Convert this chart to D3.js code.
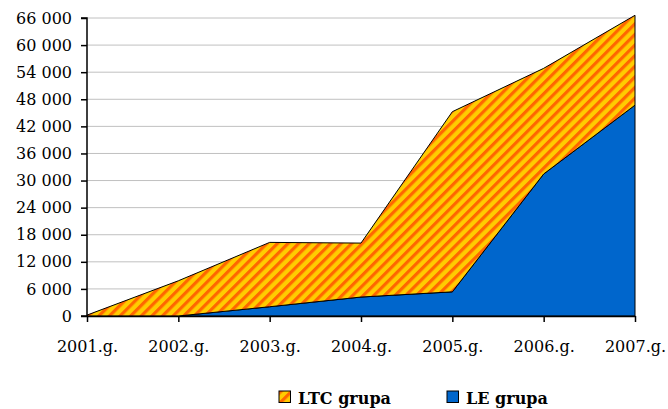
<!DOCTYPE html>
<meta charset="utf-8">
<script src="https://d3js.org/d3.v7.min.js"></script>
<style>
  body { margin: 0; background: #fff; }
</style>
<div id="chart"></div>
<script>

// data
var years = ["2001.g.", "2002.g.", "2003.g.", "2004.g.", "2005.g.", "2006.g.", "2007.g."];
var leGrupa  = [0, 0, 2050, 4200, 5350, 31450, 46700];
var ltcGrupa = [200, 7800, 14250, 11950, 39900, 23400, 19900];
var yTicks = [0, 6000, 12000, 18000, 24000, 30000, 36000, 42000, 48000, 54000, 60000, 66000];
var seriesNames = ["LE grupa", "LTC grupa"];

var serif = "DejaVu Serif";

var margin = {top: 18, right: 33, bottom: 93, left: 87},
    width = 668 - margin.left - margin.right,
    height = 409 - margin.top - margin.bottom;

var svg = d3.select("#chart")
  .append("svg")
    .attr("width", 668)
    .attr("height", 409)
    .attr("font-family", serif);

// striped fill for LTC
var defs = svg.append("defs");
var pat = defs.append("pattern")
    .attr("id", "stripes")
    .attr("patternUnits", "userSpaceOnUse")
    .attr("width", 7.5)
    .attr("height", 10)
    .attr("patternTransform", "rotate(45)");
pat.append("rect").attr("width", 7.5).attr("height", 10).attr("fill", "#FFCC00");
pat.append("rect").attr("width", 3.2).attr("height", 10).attr("fill", "#FF6600");

var g = svg.append("g")
    .attr("transform", "translate(" + margin.left + "," + margin.top + ")");

var x = d3.scalePoint()
    .domain(years)
    .range([0, width]);

var y = d3.scaleLinear()
    .domain([0, 66000])
    .range([height, 0]);

// gridlines
g.append("g")
  .selectAll("line")
  .data(yTicks.filter(function(d) { return d > 0; }))
  .enter().append("line")
    .attr("x1", 0)
    .attr("x2", width)
    .attr("y1", function(d) { return y(d); })
    .attr("y2", function(d) { return y(d); })
    .attr("stroke", "#c0c0c0")
    .attr("stroke-width", 1);

// stack
var table = years.map(function(yr, i) {
  return {year: yr, "LE grupa": leGrupa[i], "LTC grupa": ltcGrupa[i]};
});
var stacked = d3.stack().keys(seriesNames)(table);

var area = d3.area()
    .x(function(d) { return x(d.data.year); })
    .y0(function(d) { return y(d[0]); })
    .y1(function(d) { return y(d[1]); });

var fills = {"LE grupa": "#0066CC", "LTC grupa": "url(#stripes)"};

g.append("g")
  .selectAll("path")
  .data(stacked)
  .enter().append("path")
    .attr("d", area)
    .attr("fill", function(d) { return fills[d.key]; })
    .attr("stroke", "#000")
    .attr("stroke-width", 1)
    .attr("stroke-linejoin", "round");

// axes
var yAxis = g.append("g")
    .call(d3.axisLeft(y).tickValues(yTicks).tickSize(6).tickPadding(9)
      .tickFormat(function(d) { return d3.format(",")(d).replace(/,/g, " "); }));
var xAxis = g.append("g")
    .attr("transform", "translate(0," + height + ")")
    .call(d3.axisBottom(x).tickSize(6).tickPadding(19).tickSizeOuter(0));

[yAxis, xAxis].forEach(function(a) {
  a.attr("font-family", serif).attr("font-size", 16);
  a.select(".domain").attr("stroke", "#000").attr("stroke-width", 1.5);
  a.selectAll(".tick line").attr("stroke", "#000").attr("stroke-width", 1.5);
  a.selectAll("text").attr("fill", "#000");
});
yAxis.select(".domain").attr("d", "M-6," + height + "H0V0H-6");

// legend
var legend = svg.append("g");
var legItems = [
  {name: "LTC grupa", fill: "url(#stripes)", x: 279},
  {name: "LE grupa", fill: "#0066CC", x: 447}
];
var li = legend.selectAll("g")
  .data(legItems)
  .enter().append("g")
    .attr("transform", function(d) { return "translate(" + d.x + ",391)"; });
li.append("rect")
    .attr("width", 11.5)
    .attr("height", 11.5)
    .attr("fill", function(d) { return d.fill; })
    .attr("stroke", "#000")
    .attr("stroke-width", 1);
li.append("text")
    .attr("x", 19)
    .attr("y", 13)
    .attr("font-size", 16)
    .attr("font-weight", "bold")
    .text(function(d) { return d.name; });

</script>
